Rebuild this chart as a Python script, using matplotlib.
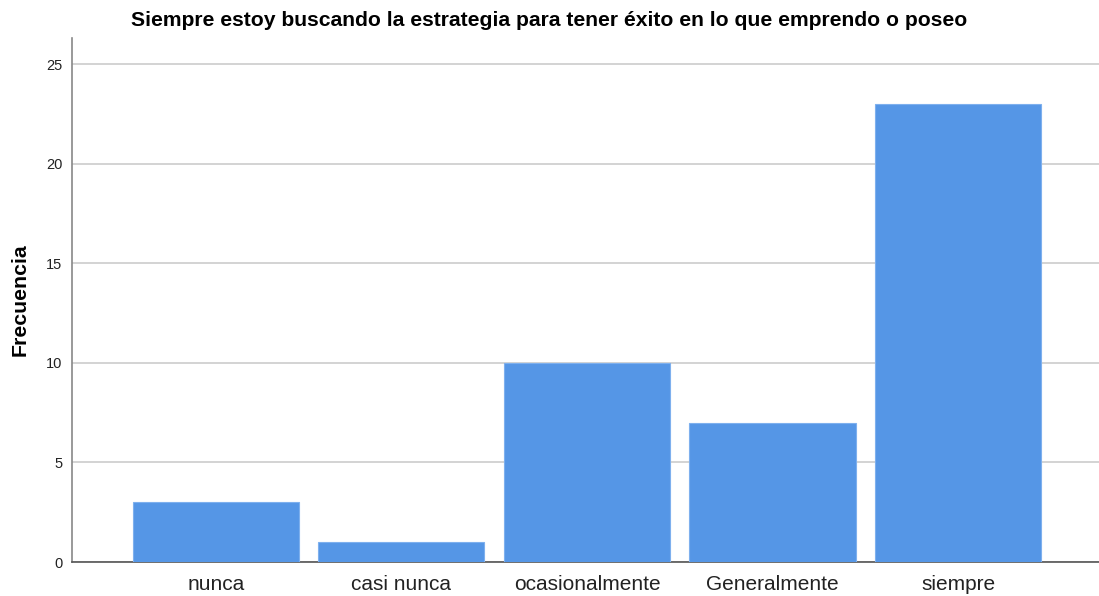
import numpy as np
import matplotlib.pyplot as plt

plt.rcParams['font.family'] = ['Liberation Sans', 'DejaVu Sans']

categorias = ['nunca', 'casi nunca', 'ocasionalmente', 'Generalmente', 'siempre']
frecuencias = [3, 1, 10, 7, 23]
yticks = [0, 5, 10, 15, 20, 25]

fig = plt.figure(figsize=(10.99, 5.96), dpi=100)
ax = fig.add_axes([0.0655, 0.057, 0.9345, 0.879])

x = np.arange(len(categorias))
ax.bar(x, frecuencias, width=0.895, color='#5596e6', edgecolor='#7eb0ee',
       linewidth=0.8, zorder=3)

ax.set_xlim(-0.776, 4.76)
ax.set_ylim(0, 26.3)
ax.set_yticks(yticks)
ax.set_xticks(x)
ax.set_xticklabels(categorias, fontsize=15, color='#222222')
ax.tick_params(axis='y', labelsize=10.5, length=0, pad=7, colors='#222222')
ax.tick_params(axis='x', length=0, pad=9)
ax.grid(axis='y', color='#d0d0d0', linewidth=1.3, zorder=0)

for s in ['top', 'right']:
    ax.spines[s].set_visible(False)
ax.spines['left'].set_color('#888888')
ax.spines['bottom'].set_color('#555555')
ax.spines['left'].set_linewidth(1.2)
ax.spines['bottom'].set_linewidth(1.2)

ax.set_ylabel('Frecuencia', fontsize=15.3, fontweight='bold', labelpad=12)
fig.text(0.5, 0.966,
         'Siempre estoy buscando la estrategia para tener éxito en lo que emprendo o poseo',
         fontsize=15.2, fontweight='bold', ha='center', va='center')

fig.savefig('out.png', dpi=100)
